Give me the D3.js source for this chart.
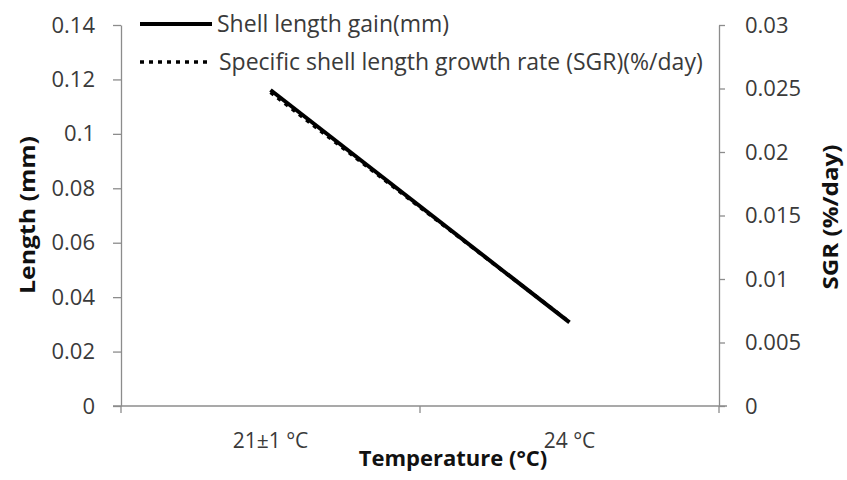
<!DOCTYPE html>
<html>
<head>
<meta charset="utf-8">
<script src="https://cdn.jsdelivr.net/npm/d3@7"></script>
<style>
  body { margin: 0; background: #fff; }
  text { font-family: "Open Sans", "Liberation Sans", Arial, sans-serif; }
</style>
</head>
<body>
<div id="chart"></div>
<script>
const categories = ['21±1 °C', '24 °C'];
const lengthGain = [0.1161, 0.0307];
const sgrValues = [0.02469, 0.00661];
const leftTicks = [0, 0.02, 0.04, 0.06, 0.08, 0.1, 0.12, 0.14];
const rightTicks = [0, 0.005, 0.01, 0.015, 0.02, 0.025, 0.03];

const W = 847, H = 480;
const plot = { left: 121, right: 719, top: 25, bottom: 406 };

const svg = d3.select('#chart').append('svg')
    .attr('width', W)
    .attr('height', H);

const x = d3.scaleBand()
    .domain(categories)
    .range([plot.left, plot.right]);

const yL = d3.scaleLinear().domain([0, 0.14]).range([plot.bottom, plot.top]);
const yR = d3.scaleLinear().domain([0, 0.03]).range([plot.bottom, plot.top]);

const fmt = d => String(+d.toFixed(3));
const axisColor = '#8c8c8c';
const labelColor = '#3a3a3a';

function styleAxis(g) {
    g.select('.domain').attr('stroke', axisColor).attr('stroke-width', 1.3);
    g.selectAll('.tick line').attr('stroke', axisColor).attr('stroke-width', 1.3);
    g.selectAll('.tick text')
        .attr('fill', labelColor)
        .style('font-size', '22px');
}

// left axis
svg.append('g')
    .attr('transform', `translate(${plot.left},0)`)
    .call(d3.axisLeft(yL).tickValues(leftTicks).tickFormat(fmt).tickSize(8).tickSizeOuter(0).tickPadding(18))
    .call(styleAxis);

// right axis
svg.append('g')
    .attr('transform', `translate(${plot.right},0)`)
    .call(d3.axisRight(yR).tickValues(rightTicks).tickFormat(fmt).tickSize(6).tickSizeOuter(0).tickPadding(20))
    .call(styleAxis);

// bottom axis: labels centred in categories, ticks on boundaries
const xAxis = svg.append('g')
    .attr('transform', `translate(0,${plot.bottom})`)
    .call(d3.axisBottom(x).tickSize(0).tickSizeOuter(0).tickPadding(27))
    .call(styleAxis);
xAxis.select('.domain').remove();
xAxis.selectAll('.tick text').style('font-size', '21px');

svg.append('line')
    .attr('x1', plot.left - 8).attr('x2', plot.right + 8)
    .attr('y1', plot.bottom).attr('y2', plot.bottom)
    .attr('stroke', axisColor).attr('stroke-width', 1.3);

const boundaries = categories.map(c => x(c)).concat([x.range()[1]]);
svg.selectAll('.xtick')
    .data(boundaries)
    .enter()
    .append('line')
    .attr('x1', d => d).attr('x2', d => d)
    .attr('y1', plot.bottom).attr('y2', plot.bottom + 7)
    .attr('stroke', axisColor).attr('stroke-width', 1.3);

// series
const lineL = d3.line()
    .x((d, i) => x(categories[i]) + x.bandwidth() / 2)
    .y(d => yL(d));
const lineR = d3.line()
    .x((d, i) => x(categories[i]) + x.bandwidth() / 2)
    .y(d => yR(d));

svg.append('path')
    .datum(sgrValues)
    .attr('d', lineR)
    .attr('fill', 'none')
    .attr('stroke', '#000')
    .attr('stroke-width', 3.5)
    .attr('stroke-dasharray', '4,5');

svg.append('path')
    .datum(lengthGain)
    .attr('d', lineL)
    .attr('fill', 'none')
    .attr('stroke', '#000')
    .attr('stroke-width', 4);

// axis titles
svg.append('text')
    .attr('transform', 'rotate(-90)')
    .attr('x', -215)
    .attr('y', 35)
    .attr('text-anchor', 'middle')
    .attr('textLength', 158)
    .attr('lengthAdjust', 'spacingAndGlyphs')
    .style('font-size', '21px')
    .style('font-weight', 'bold')
    .attr('fill', '#111')
    .text('Length (mm)');

svg.append('text')
    .attr('transform', 'rotate(-90)')
    .attr('x', -217)
    .attr('y', 838)
    .attr('text-anchor', 'middle')
    .attr('textLength', 145)
    .attr('lengthAdjust', 'spacingAndGlyphs')
    .style('font-size', '21px')
    .style('font-weight', 'bold')
    .attr('fill', '#111')
    .text('SGR (%/day)');

svg.append('text')
    .attr('x', 453)
    .attr('y', 466)
    .attr('text-anchor', 'middle')
    .style('font-size', '22px')
    .style('font-weight', 'bold')
    .attr('fill', '#111')
    .text('Temperature (°C)');

// legend
const legend = svg.append('g');
const legendItems = [
    { label: 'Shell length gain(mm)', dash: null, y: 24, x2: 212, tx: 217 },
    { label: 'Specific shell length growth rate (SGR)(%/day)', dash: '4,5', y: 62, x2: 207, tx: 219 }
];
legendItems.forEach(item => {
    legend.append('line')
        .attr('x1', 140).attr('x2', item.x2)
        .attr('y1', item.y).attr('y2', item.y)
        .attr('stroke', '#000')
        .attr('stroke-width', item.dash ? 3.5 : 4)
        .attr('stroke-dasharray', item.dash);
    legend.append('text')
        .attr('x', item.tx)
        .attr('y', item.y + 8)
        .style('font-size', '23px')
        .attr('fill', labelColor)
        .text(item.label);
});
</script>
</body>
</html>
